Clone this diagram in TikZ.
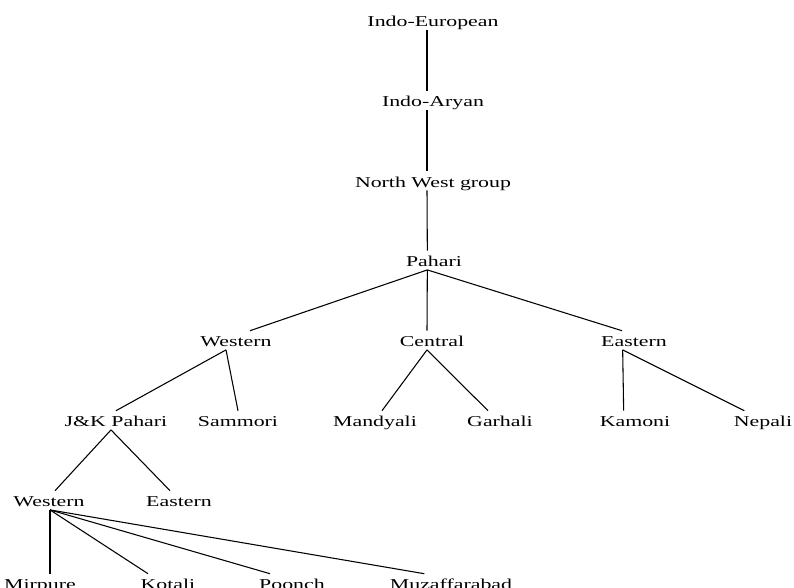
\documentclass[tikz,border=0pt]{standalone}
\usepackage{fontspec}
\setmainfont{Liberation Serif}[FakeStretch=1.45]
\begin{document}
\begin{tikzpicture}[x=0.75pt, y=-0.75pt,
	lang/.style={font=\fontsize{11.3}{13}\selectfont, text height=10pt, text depth=0pt, inner xsep=0pt, inner ysep=2pt},
	branch/.style={line width=0.8pt}]
	\useasboundingbox (0, 0) rectangle (794, 587);
		\node[lang] (ie) at (433, 20.3) {Indo-European};
		\node[lang] (ia) at (433, 100.3) {Indo-Aryan};
		\node[lang] (nw) at (433, 180.8) {North West group};
		\node[lang] (pahari) at (434, 260.3) {Pahari};
			\node[lang] (western) at (236, 340.3) {Western};
			\node[lang] (central) at (432, 340.3) {Central};
			\node[lang] (eastern) at (634, 340.3) {Eastern};
				\node[lang] (jk) at (116, 420.3) {J\&K Pahari};
				\node[lang] (sammori) at (238, 420.3) {Sammori};
				\node[lang] (mandyali) at (375, 420.3) {Mandyali};
				\node[lang] (garhali) at (500, 420.3) {Garhali};
				\node[lang] (kamoni) at (635, 420.3) {Kamoni};
				\node[lang] (nepali) at (763, 420.3) {Nepali};
					\node[lang] (jkwest) at (49, 500.3) {Western};
					\node[lang] (jkeast) at (179, 500.3) {Eastern};
						\node[lang] (mirpure) at (40, 583.3) {Mirpure};
						\node[lang] (kotali) at (168, 583.3) {Kotali};
						\node[lang] (poonch) at (292, 583.3) {Poonch};
						\node[lang] (muzaffarabad) at (451, 583.3) {Muzaffarabad};

		\draw[branch] ([xshift=-4.5pt]ie.south) to ([xshift=-4.5pt]ia.north);
		\draw[branch] ([xshift=-4.5pt]ia.south) to ([xshift=-4.5pt]nw.north);
		\draw[branch] ([xshift=-4.5pt]nw.south) to ([xshift=-5pt]pahari.north);
			\draw[branch] ([xshift=-5pt]pahari.south) to ([xshift=10.5pt]western.north);
			\draw[branch] ([xshift=-5pt]pahari.south) to ([xshift=-3.75pt]central.north);
			\draw[branch] ([xshift=-5pt]pahari.south) to ([xshift=-9pt]eastern.north);
			\draw[branch] ([xshift=-7.5pt]western.south) to (jk.north);
			\draw[branch] ([xshift=-7.5pt]western.south) to (sammori.north);
			\draw[branch] ([xshift=-3.75pt]central.south) to ([xshift=5.25pt]mandyali.north);
			\draw[branch] ([xshift=-3.75pt]central.south) to ([xshift=-9pt]garhali.north);
			\draw[branch] ([xshift=-8.5pt]eastern.south) to ([xshift=-8.5pt]kamoni.north);
			\draw[branch] ([xshift=-8.5pt]eastern.south) to ([xshift=-14pt]nepali.north);
				\draw[branch] ([xshift=-3.75pt]jk.south) to ([xshift=4.5pt]jkwest.north);
				\draw[branch] ([xshift=-3.75pt]jk.south) to ([xshift=-6.75pt]jkeast.north);
					\draw[branch] ([xshift=0.75pt]jkwest.south) to ([xshift=7.5pt]mirpure.north);
					\draw[branch] ([xshift=0.75pt]jkwest.south) to ([xshift=-15pt]kotali.north);
					\draw[branch] ([xshift=0.75pt]jkwest.south) to ([xshift=-16.5pt]poonch.north);
					\draw[branch] ([xshift=0.75pt]jkwest.south) to ([xshift=-20pt]muzaffarabad.north);
\end{tikzpicture}
\end{document}
